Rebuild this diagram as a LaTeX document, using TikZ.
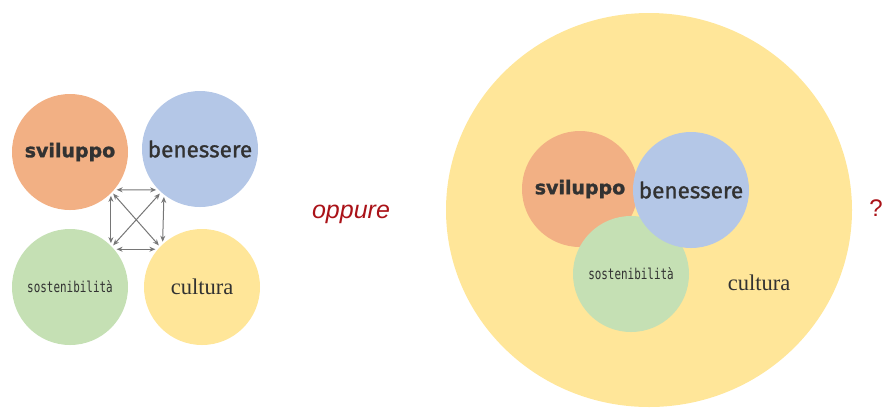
\documentclass[tikz,border=0pt]{standalone}
\usepackage{fontspec}
\usepackage{tikz}
\usetikzlibrary{arrows.meta}
\setmainfont{Liberation Serif}
\newfontfamily\svfont{DejaVu Sans}[BoldFeatures={FakeBold=1.4}]
\newfontfamily\befont[FakeBold=1.2]{Fira Sans}
\newfontfamily\sofont{DejaVu Sans Mono}
\newfontfamily\opfont{Liberation Sans}
\definecolor{svorange}{RGB}{242,176,132}
\definecolor{beblue}{RGB}{180,199,231}
\definecolor{sogreen}{RGB}{197,224,180}
\definecolor{cuyellow}{RGB}{255,230,153}
\definecolor{txtgray}{RGB}{50,50,50}
\definecolor{arrgray}{RGB}{118,118,118}
\definecolor{oppred}{RGB}{170,18,24}
\newcommand{\txtsv}{\svfont\bfseries\fontsize{19}{19}\selectfont}
\newcommand{\txtbe}{\befont\fontsize{22.5}{22}\selectfont}
\newcommand{\txtso}[1]{\scalebox{0.95}[1.3]{\sofont\fontsize{11.5}{12}\selectfont #1}}
\newcommand{\txtcu}{\rmfamily\fontsize{22.5}{22}\selectfont}
\newcommand{\bubble}[5]{\node[bubble, fill=#4] (#1) at (#2,#3) {#5};}
\newcommand{\word}[4]{\node[inner sep=0pt] (#1) at (#2,#3) {#4};}
\tikzset{
  bubble/.style={circle, draw=none, minimum size=116pt, inner sep=0pt, outer sep=2pt, text=txtgray},
  link/.style={arrgray, line width=1pt, {Stealth[length=6pt,width=5pt]}-{Stealth[length=6pt,width=5pt]}}
}

\begin{document}
\begin{tikzpicture}[x=1pt,y=-1pt]
        \useasboundingbox (0,0) rectangle (886,408);

        % four separate bubbles
        \bubble{sv}{70}{152}{svorange}{\txtsv sviluppo}
        \bubble{be}{200}{149}{beblue}{\txtbe benessere}
        \bubble{so}{70}{287}{sogreen}{\txtso{sostenibilità}}
        \bubble{cu}{202}{287}{cuyellow}{\txtcu cultura}

        % links between them
        \draw[link] (sv.-39) -- (be.223);
        \draw[link] (so.39) -- (cu.141);
        \draw[link] (sv.-47) -- (so.47);
        \draw[link] (be.-127) -- (cu.131);
        \draw[link] (sv.-44) -- (cu.136);
        \draw[link] (be.228) -- (so.44);

        \word{oppure}{351}{214}{\opfont\itshape\fontsize{25}{25}\selectfont\color{oppred}oppure}

        % nested version
        \fill[cuyellow] (649,210) ellipse [x radius=203pt, y radius=197pt];
        \bubble{svR}{580}{189}{svorange}{\txtsv sviluppo}
        \bubble{soR}{631}{274}{sogreen}{\txtso{sostenibilità}}
        \bubble{beR}{691}{190}{beblue}{\txtbe benessere}
        \word{cuR}{759}{283}{\color{txtgray}\txtcu cultura}

        \word{qmark}{876}{208}{\opfont\fontsize{24}{24}\selectfont\color{oppred}?}

    \end{tikzpicture}
\end{document}
